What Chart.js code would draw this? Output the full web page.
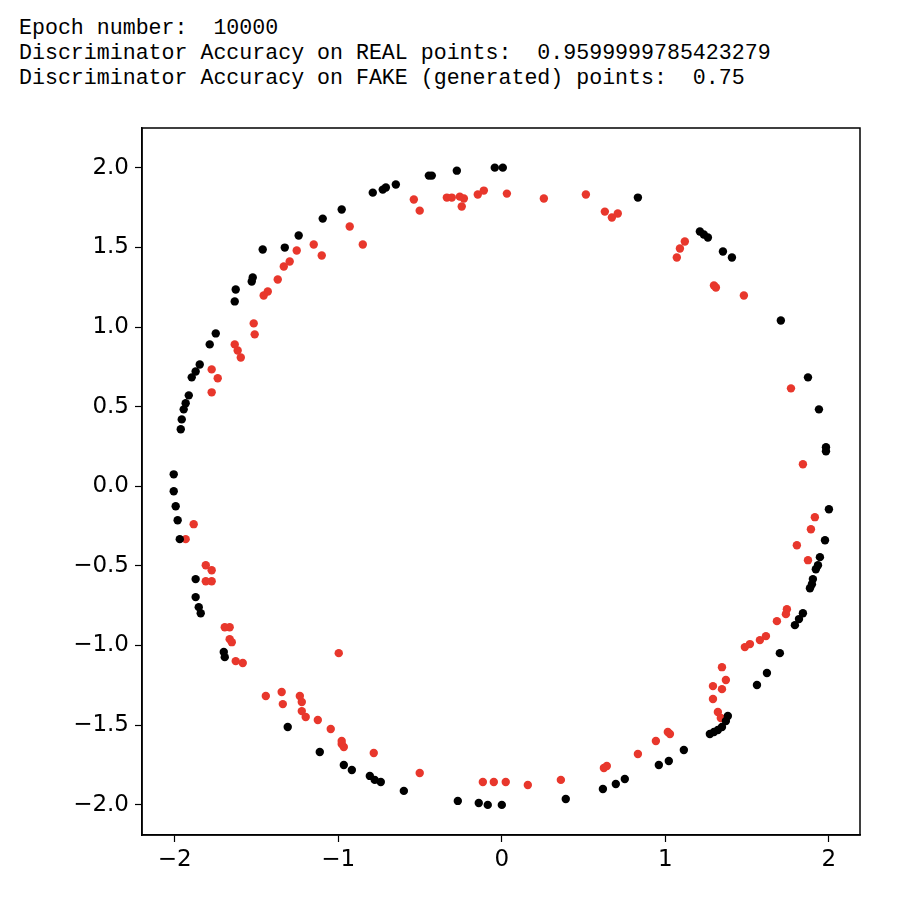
<!DOCTYPE html>
<html><head><meta charset="utf-8">
<script src="https://cdn.jsdelivr.net/npm/chart.js@4/dist/chart.umd.min.js"></script>
<style>
body{margin:0;background:#fff;width:923px;height:903px;overflow:hidden;position:relative}
#t{position:absolute;left:19px;top:16px;margin:0;font:21.6px/25px "Liberation Mono","DejaVu Sans Mono",monospace;color:#000}
canvas{position:absolute;left:0;top:0}
</style></head><body>
<pre id="t">Epoch number:  10000
Discriminator Accuracy on REAL points:  0.9599999785423279
Discriminator Accuracy on FAKE (generated) points:  0.75</pre>
<canvas id="c" width="923" height="903"></canvas>
<script>
const titleLines=["Epoch number:  10000","Discriminator Accuracy on REAL points:  0.9599999785423279","Discriminator Accuracy on FAKE (generated) points:  0.75"];
const xTicks=[-2,-1,0,1,2];
const yTicks=[-2,-1.5,-1,-0.5,0,0.5,1,1.5,2];
// values (pixel estimates converted to data units)
const realPx=[[174,475],[174,492],[176,507],[178,521],[180,540],[181,430],[182,420],[184,410],[186,404],[189,396],[192,378],[196,372],[200,365],[210,345],[216,334],[235,302],[236,290],[252,282],[253,278],[263,250],[285,248],[299,236],[323,219],[342,210],[373,193],[383,190],[386,188],[396,185],[429,176],[432,176],[457,171],[495,168],[503,168],[638,198],[700,232],[704,235],[708,238],[723,252],[732,258],[781,321],[808,378],[819,410],[826,448],[826,452],[829,510],[825,541],[820,558],[818,566],[816,570],[813,580],[812,585],[810,589],[196,580],[196,598],[199,608],[201,614],[224,653],[225,658],[288,728],[320,753],[344,766],[352,771],[370,777],[375,781],[381,783],[404,792],[458,802],[479,804],[488,806],[502,806],[566,800],[603,790],[616,785],[625,780],[659,766],[669,762],[684,751],[710,735],[714,733],[718,731],[722,728],[726,722],[728,717],[757,686],[767,674],[780,654],[803,614],[795,626],[799,620]];
const fakePx=[[414,200],[420,211],[447,198],[452,198],[460,197],[464,199],[462,207],[478,195],[484,191],[507,194],[544,199],[586,195],[605,212],[612,218],[618,214],[677,258],[680,249],[685,242],[714,286],[716,288],[744,296],[350,227],[363,245],[314,245],[322,256],[297,251],[290,262],[284,267],[278,280],[268,292],[264,296],[254,324],[255,335],[235,345],[238,351],[241,358],[212,370],[218,379],[212,393],[791,389],[803,465],[815,518],[811,530],[797,546],[808,561],[787,610],[786,615],[777,622],[766,637],[760,641],[745,648],[750,645],[194,525],[186,540],[206,566],[212,571],[212,582],[206,582],[230,628],[230,640],[232,643],[225,628],[236,662],[243,664],[266,697],[282,693],[283,705],[300,697],[302,703],[302,712],[306,718],[318,721],[331,730],[342,745],[342,742],[344,748],[339,654],[374,754],[420,774],[483,783],[494,783],[506,783],[528,786],[561,781],[604,769],[607,767],[638,755],[656,742],[668,733],[670,735],[713,687],[713,700],[718,713],[721,719],[722,690],[722,668],[726,681]];
const realX=realPx.map(p=>+((p[0]-502)/163.5).toFixed(3));
const realY=realPx.map(p=>+((487-p[1])/159.4).toFixed(3));
const fakeX=fakePx.map(p=>+((p[0]-502)/163.5).toFixed(3));
const fakeY=fakePx.map(p=>+((487-p[1])/159.4).toFixed(3));
const fmt=v=>(v<0?"\u2212":"")+Math.abs(v);
const boxPlugin={id:'box',afterDraw(c){const a=c.chartArea,x=c.ctx;x.save();x.strokeStyle='#000';x.lineWidth=1.5;x.strokeRect(a.left,a.top,a.right-a.left,a.bottom-a.top);x.restore();}};
new Chart(document.getElementById('c'),{
type:'scatter',
data:{datasets:[
{data:realX.map((v,i)=>({x:v,y:realY[i]})),backgroundColor:'#000',borderWidth:0,pointRadius:4.2},
{data:fakeX.map((v,i)=>({x:v,y:fakeY[i]})),backgroundColor:'#e8372c',borderWidth:0,pointRadius:4.2}
]},
options:{responsive:false,animation:false,
layout:{padding:{left:0,top:128,right:63,bottom:0}},
plugins:{legend:{display:false},tooltip:{enabled:false}},
scales:{
x:{type:'linear',min:-2.2,max:2.19,afterBuildTicks:s=>{s.ticks=xTicks.map(v=>({value:v}))},
 afterFit:s=>{s.height=68},
 grid:{drawOnChartArea:false,color:'#000',tickLength:7,tickWidth:1.2},border:{color:'#000',width:1.5},
 ticks:{color:'#000',font:{family:'DejaVu Sans',size:23},padding:4,callback:v=>fmt(v)}},
y:{type:'linear',min:-2.19,max:2.25,afterBuildTicks:s=>{s.ticks=yTicks.map(v=>({value:v}))},
 afterFit:s=>{s.width=142},
 grid:{drawOnChartArea:false,color:'#000',tickLength:7,tickWidth:1.2},border:{color:'#000',width:1.5},
 ticks:{color:'#000',font:{family:'DejaVu Sans',size:23},padding:6,callback:v=>fmt(v.toFixed(1)).replace(/^(\u2212?)(\d)$/,'$1$2.0')}}
}},
plugins:[boxPlugin]
});
</script></body></html>
